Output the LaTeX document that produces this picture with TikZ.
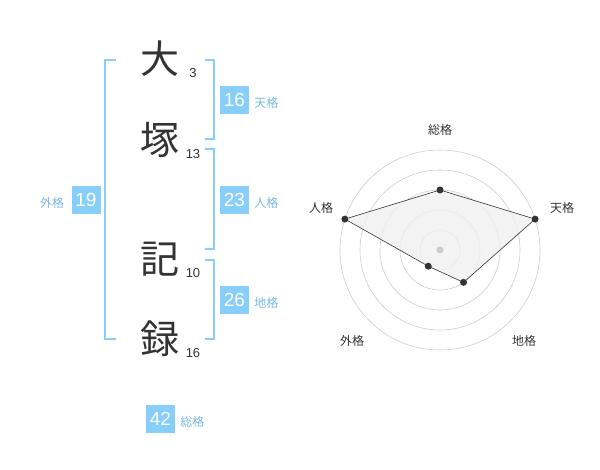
\documentclass[tikz,border=0pt]{standalone}
\usepackage{fontspec}
\setmainfont{Liberation Sans}
\newfontfamily\jp{Noto Sans CJK JP}
\usetikzlibrary{positioning}
\usetikzlibrary{calc}
\definecolor{myblue}{RGB}{135,206,250}
\definecolor{mytext}{RGB}{51,51,51}
\definecolor{mygrid}{RGB}{204,204,204}
\newcommand\mychar[4]{%
  \node[bigchar] (#1) at (160,#2) {#3};
  \node[stroke] (#1n) at (193,#2+14) {#4};
}
\newcommand\mybox[4]{%
  \node[kakubox] (#1) at #2 {#3};
  \node[kakulabel,right=5pt of #1,yshift=-2.5pt] (#1l) {#4};
}

\begin{document}
\begin{tikzpicture}[
x=1pt, y=-1pt,
bigchar/.style={
  text=mytext,
  font=\jp\fontsize{39}{40}\selectfont,
  inner sep=0pt},
stroke/.style={
  text=mytext,
  font=\fontsize{13}{14}\selectfont,
  inner sep=0pt},
kakubox/.style={
  fill=myblue,
  text=white,
  minimum width=29pt,
  minimum height=28pt,
  inner sep=0pt,
  font=\fontsize{19}{20}\selectfont},
kakulabel/.style={
  text=myblue!90!black,
  font=\jp\fontsize{12}{13}\selectfont,
  inner sep=0pt},
bracket/.style={
  draw=myblue,
  line width=1.8pt},
axislabel/.style={
  text=mytext,
  font=\jp\fontsize{12}{13}\selectfont,
  inner sep=0pt},
dot/.style={
  circle,
  fill=mytext,
  inner sep=0pt,
  minimum size=7pt}
]
\useasboundingbox (0,0) rectangle (600,470);

% name characters and stroke counts
\mychar{dai}{59}{大}{3}
\mychar{tsuka}{140}{塚}{13}
\mychar{ki}{259}{記}{10}
\mychar{roku}{339}{録}{16}

% brackets
\draw[bracket] (116,60) -- (105,60) -- (105,339) -- (116,339);
\draw[bracket] (205,60) -- (214,60) -- (214,139) -- (205,139);
\draw[bracket] (205,149) -- (214,149) -- (214,249) -- (205,249);
\draw[bracket] (205,260) -- (214,260) -- (214,339) -- (205,339);

% kaku boxes
\mybox{ten}{(234.5,100)}{16}{天格}
\mybox{jin}{(234.5,200)}{23}{人格}
\mybox{chi}{(234.5,300)}{26}{地格}
\mybox{sou}{(160.5,419)}{42}{総格}
\node[kakubox] (gai) at (86,200) {19};
\node[kakulabel,left=7pt of gai,yshift=-2.5pt] (gail) {外格};

% radar chart
\begin{scope}[shift={(440,250)}, yscale=-1]
\foreach \r in {20,40,60,80,100}
  \draw[mygrid, line width=0.6pt] (0,0) circle (\r);
\coordinate (psou) at (90:60);
\coordinate (pten) at (18:100);
\coordinate (pchi) at (-54:40);
\coordinate (pgai) at (-126:20);
\coordinate (pjin) at (162:100);
\draw[fill=black!6, fill opacity=0.8, draw=mytext, line width=0.6pt]
  (psou) -- (pten) -- (pchi) -- (pgai) -- (pjin) -- cycle;
\fill[mygrid] (0,0) circle (3.5);
\foreach \p in {psou,pten,pchi,pgai,pjin}
  \node[dot] at (\p) {};
\node[axislabel] (lsou) at (0,120) {総格};
\node[axislabel] (lten) at (122,42) {天格};
\node[axislabel] (ljin) at (-119,42) {人格};
\node[axislabel] (lgai) at (-88,-91) {外格};
\node[axislabel] (lchi) at (84,-91) {地格};
\end{scope}
\end{tikzpicture}
\end{document}
